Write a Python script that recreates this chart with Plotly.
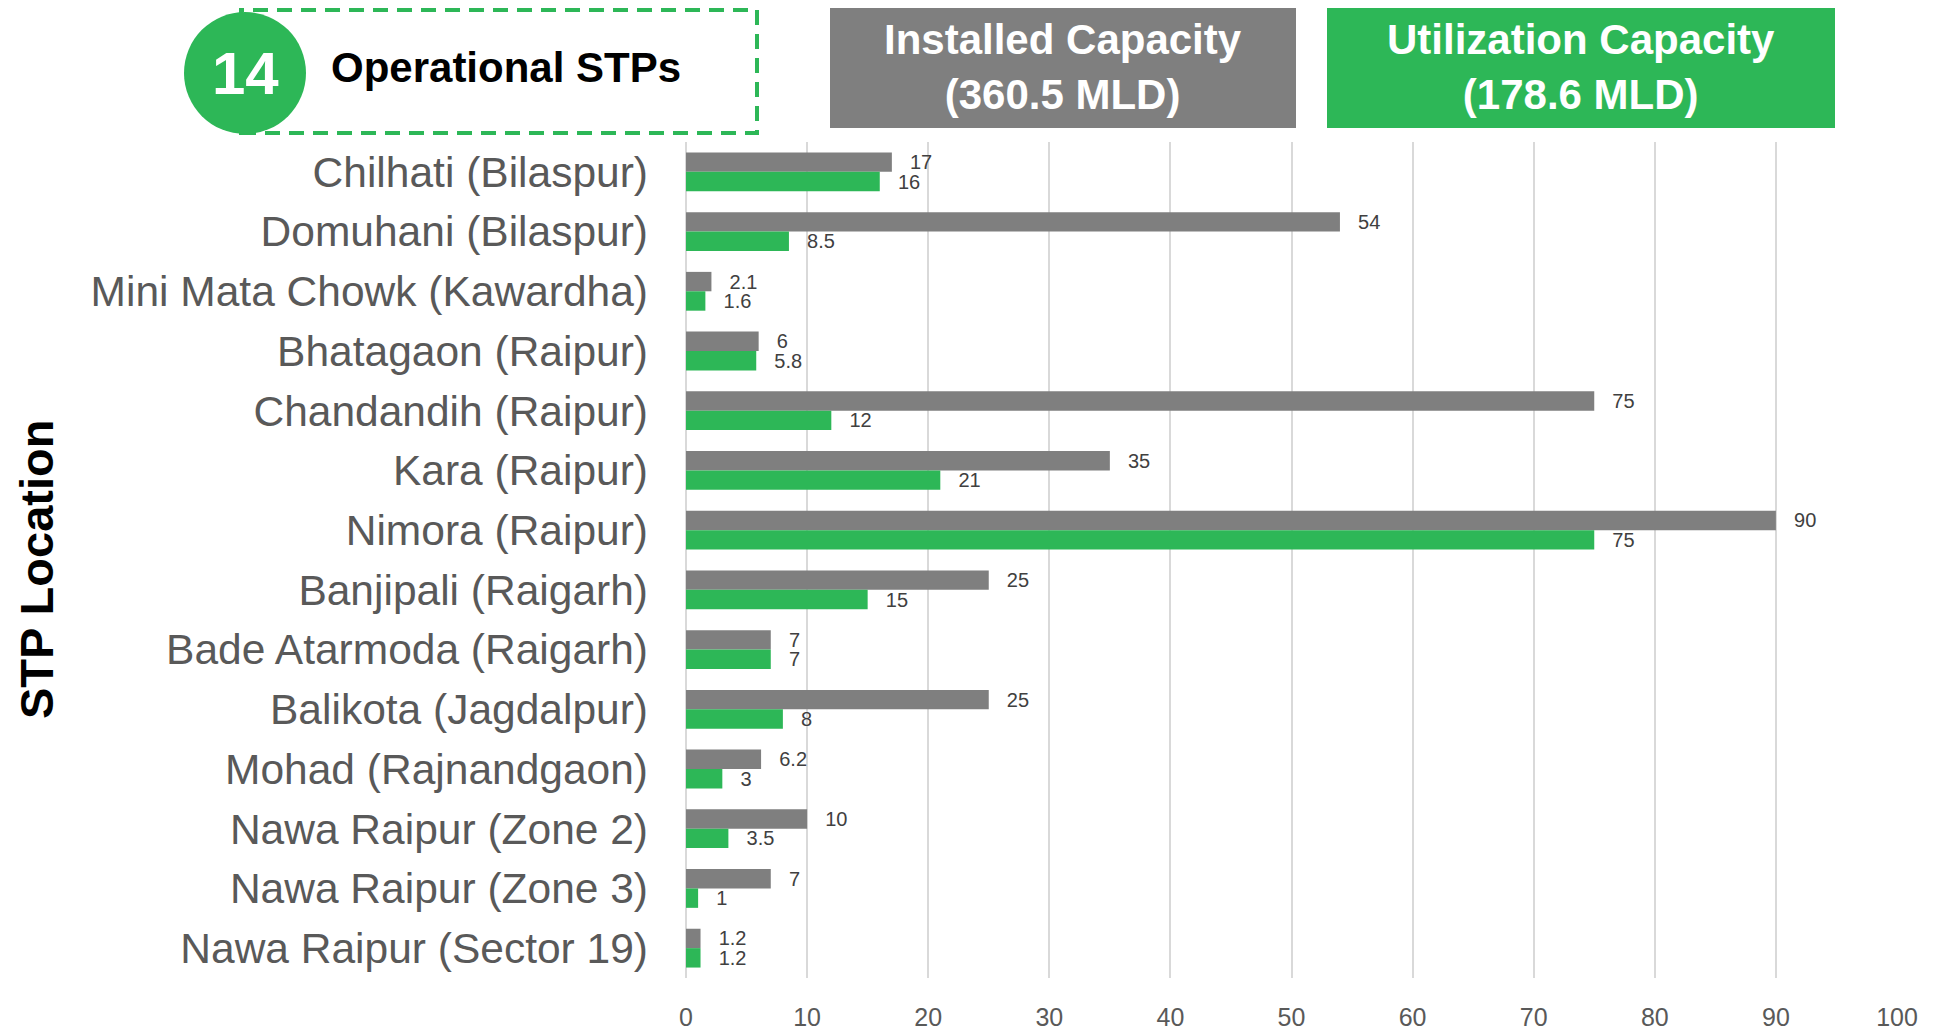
import plotly.graph_objects as go

categories = [
    "Chilhati (Bilaspur)", "Domuhani (Bilaspur)", "Mini Mata Chowk (Kawardha)",
    "Bhatagaon (Raipur)", "Chandandih (Raipur)", "Kara (Raipur)", "Nimora (Raipur)",
    "Banjipali (Raigarh)", "Bade Atarmoda (Raigarh)", "Balikota (Jagdalpur)",
    "Mohad (Rajnandgaon)", "Nawa Raipur (Zone 2)", "Nawa Raipur (Zone 3)",
    "Nawa Raipur (Sector 19)",
]
installed = [17, 54, 2.1, 6, 75, 35, 90, 25, 7, 25, 6.2, 10, 7, 1.2]
utilized = [16, 8.5, 1.6, 5.8, 12, 21, 75, 15, 7, 8, 3, 3.5, 1, 1.2]

x_ticks = [0, 10, 20, 30, 40, 50, 60, 70, 80, 90, 100]

GRAY = "#7F7F7F"
GREEN = "#2DB757"
FONT = "Arial, Liberation Sans, sans-serif"

# page offset (browser body margin)
OFF = 8
W_FIG, H_FIG = 1945, 1033
L, T = 686 - OFF, 142 - OFF
R = W_FIG - (1897 - OFF)
B = H_FIG - (978 - OFF)
PW = W_FIG - L - R
PH = H_FIG - T - B


def px(x):
    return (x - OFF - L) / PW


def py(y):
    return 1 - (y - OFF - T) / PH


pad = "\u00a0\u00a0\u2009"

fig = go.Figure()
fig.add_trace(go.Bar(
    y=categories, x=installed, orientation="h", name="Installed Capacity",
    marker=dict(color=GRAY, line=dict(width=0)),
    text=installed, texttemplate=pad + "%{x}", textposition="outside",
    constraintext="none", cliponaxis=False,
    textfont=dict(family=FONT, size=20, color="#404040"),
))
fig.add_trace(go.Bar(
    y=categories, x=utilized, orientation="h", name="Utilization Capacity",
    marker=dict(color=GREEN, line=dict(width=0)),
    text=utilized, texttemplate=pad + "%{x}", textposition="outside",
    constraintext="none", cliponaxis=False,
    textfont=dict(family=FONT, size=20, color="#404040"),
))

shapes = [
    dict(type="rect", xref="paper", yref="paper",
         x0=px(241), x1=px(757), y0=py(133), y1=py(10),
         line=dict(color=GREEN, width=4, dash="15px,9px"), fillcolor="rgba(0,0,0,0)"),
    dict(type="circle", xref="paper", yref="paper",
         x0=px(184), x1=px(306), y0=py(134), y1=py(12),
         line=dict(width=0), fillcolor=GREEN),
    dict(type="rect", xref="paper", yref="paper",
         x0=px(830), x1=px(1296), y0=py(128), y1=py(5),
         line=dict(width=0), fillcolor=GRAY),
    dict(type="rect", xref="paper", yref="paper",
         x0=px(1327), x1=px(1835), y0=py(128), y1=py(5),
         line=dict(width=0), fillcolor=GREEN),
]

annotations = [
    dict(text="<b>14</b>", x=px(245), y=py(73), xref="paper", yref="paper",
         showarrow=False, xanchor="center", yanchor="middle",
         font=dict(family=FONT, size=60, color="white")),
    dict(text="<b>Operational STPs</b>", x=px(329), y=py(67), xref="paper", yref="paper",
         showarrow=False, xanchor="left", yanchor="middle",
         font=dict(family=FONT, size=42, color="black")),
    dict(text="<b>Installed Capacity<br>(360.5 MLD)</b>", x=px(1063), y=py(67),
         xref="paper", yref="paper", showarrow=False, xanchor="center", yanchor="middle",
         font=dict(family=FONT, size=42, color="white")),
    dict(text="<b>Utilization Capacity<br>(178.6 MLD)</b>", x=px(1581), y=py(67),
         xref="paper", yref="paper", showarrow=False, xanchor="center", yanchor="middle",
         font=dict(family=FONT, size=42, color="white")),
    dict(text="<b>STP Location</b>", x=px(36), y=py(570), xref="paper", yref="paper",
         showarrow=False, xanchor="center", yanchor="middle", textangle=-90,
         font=dict(family=FONT, size=47, color="black")),
]

fig.update_layout(
    width=W_FIG, height=H_FIG,
    margin=dict(l=L, r=R, t=T, b=B, autoexpand=False),
    paper_bgcolor="white", plot_bgcolor="white",
    barmode="group", bargap=0.35, bargroupgap=0,
    showlegend=False,
    shapes=shapes, annotations=annotations,
    xaxis=dict(
        range=[0, 100], tickvals=x_ticks, ticktext=[str(v) for v in x_ticks],
        showgrid=True, gridcolor="#D9D9D9", gridwidth=1.5,
        zeroline=True, zerolinecolor="#D9D9D9", zerolinewidth=1.5,
        showline=False, ticks="", ticklabelstandoff=22, automargin=False,
        tickfont=dict(family=FONT, size=25, color="#595959"),
    ),
    yaxis=dict(
        autorange="reversed", showgrid=False, zeroline=False, showline=False,
        ticks="", ticklabelstandoff=37, automargin=False,
        tickfont=dict(family=FONT, size=42.5, color="#595959"),
    ),
)

fig.write_html("out.html")
